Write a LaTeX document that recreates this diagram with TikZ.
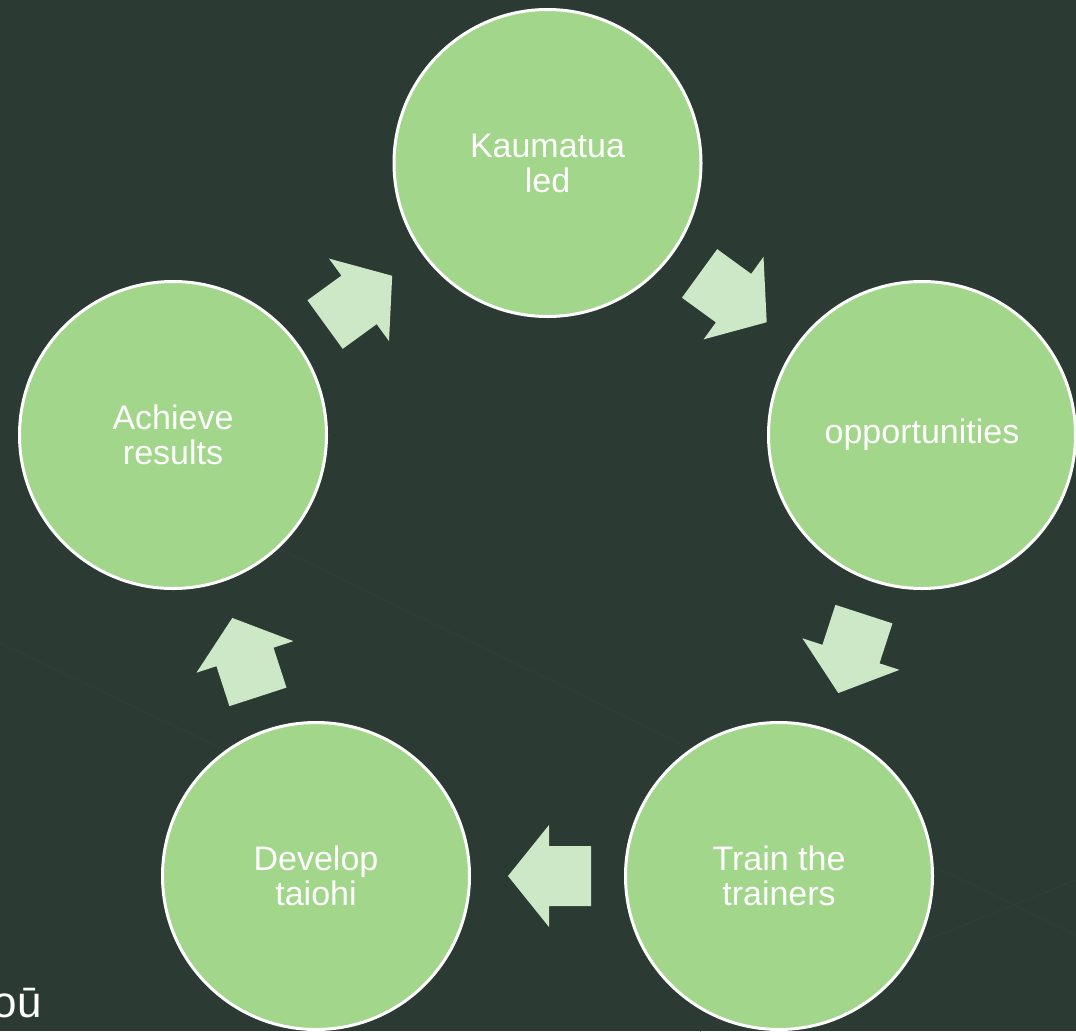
\documentclass[tikz,border=0pt]{standalone}
\usepackage{fontspec}
\setmainfont{Liberation Sans}
\usetikzlibrary{calc}
\definecolor{bgcol}{HTML}{2B3A32}
\definecolor{circfill}{HTML}{A2D68B}
\definecolor{arrfill}{HTML}{CDE8C6}
\definecolor{faint}{HTML}{2F3F36}
\tikzset{
  stage/.style={circle, fill=circfill, draw=white, line width=3pt,
    minimum size=307pt, inner sep=0pt, align=center, text=white,
    font=\fontsize{34}{35}\selectfont},
  blockarrow/.style={fill=arrfill},
  faintline/.style={draw=faint, line width=1pt}
}
\newcommand{\cyclearrow}[3]{%
  \begin{scope}[shift={($(#1)!0.5!(#2)$)}, rotate=#3, x=1pt, y=1pt]
    \fill[blockarrow] (-43.5,-30) -- (-1.5,-30) -- (-1.5,-51) -- (39.5,0)
      -- (-1.5,51) -- (-1.5,30) -- (-43.5,30) -- cycle;
  \end{scope}}
\begin{document}
\begin{tikzpicture}[x=1pt, y=-1pt]
  \fill[bgcol] (0,0) rectangle (1076,1031);
  \useasboundingbox (0,0) rectangle (1076,1031);
  % faint background texture lines
  \draw[faintline] (0,643) -- (330,800);
  \draw[faintline] (230,525) -- (1076,935);
  \draw[faintline] (700,1031) -- (1076,880);
  % stages
  \node[stage] (K) at (547.5,163) {Kaumatua\\led};
  \node[stage] (O) at (922,435) {opportunities};
  \node[stage] (T) at (779,876) {Train the\\trainers};
  \node[stage] (D) at (316,876) {Develop\\taiohi};
  \node[stage] (A) at (173,435) {Achieve\\results};
  % arrows
  \cyclearrow{K}{O}{-36}
  \cyclearrow{O}{T}{-108}
  \cyclearrow{T}{D}{180}
  \cyclearrow{D}{A}{108}
  \cyclearrow{A}{K}{36}
  % partial text at bottom left
  \node[anchor=base east, inner sep=0pt, text=white,
        font=\fontsize{44}{44}\selectfont] (tail) at (42,1017) {oū};
\end{tikzpicture}
\end{document}
